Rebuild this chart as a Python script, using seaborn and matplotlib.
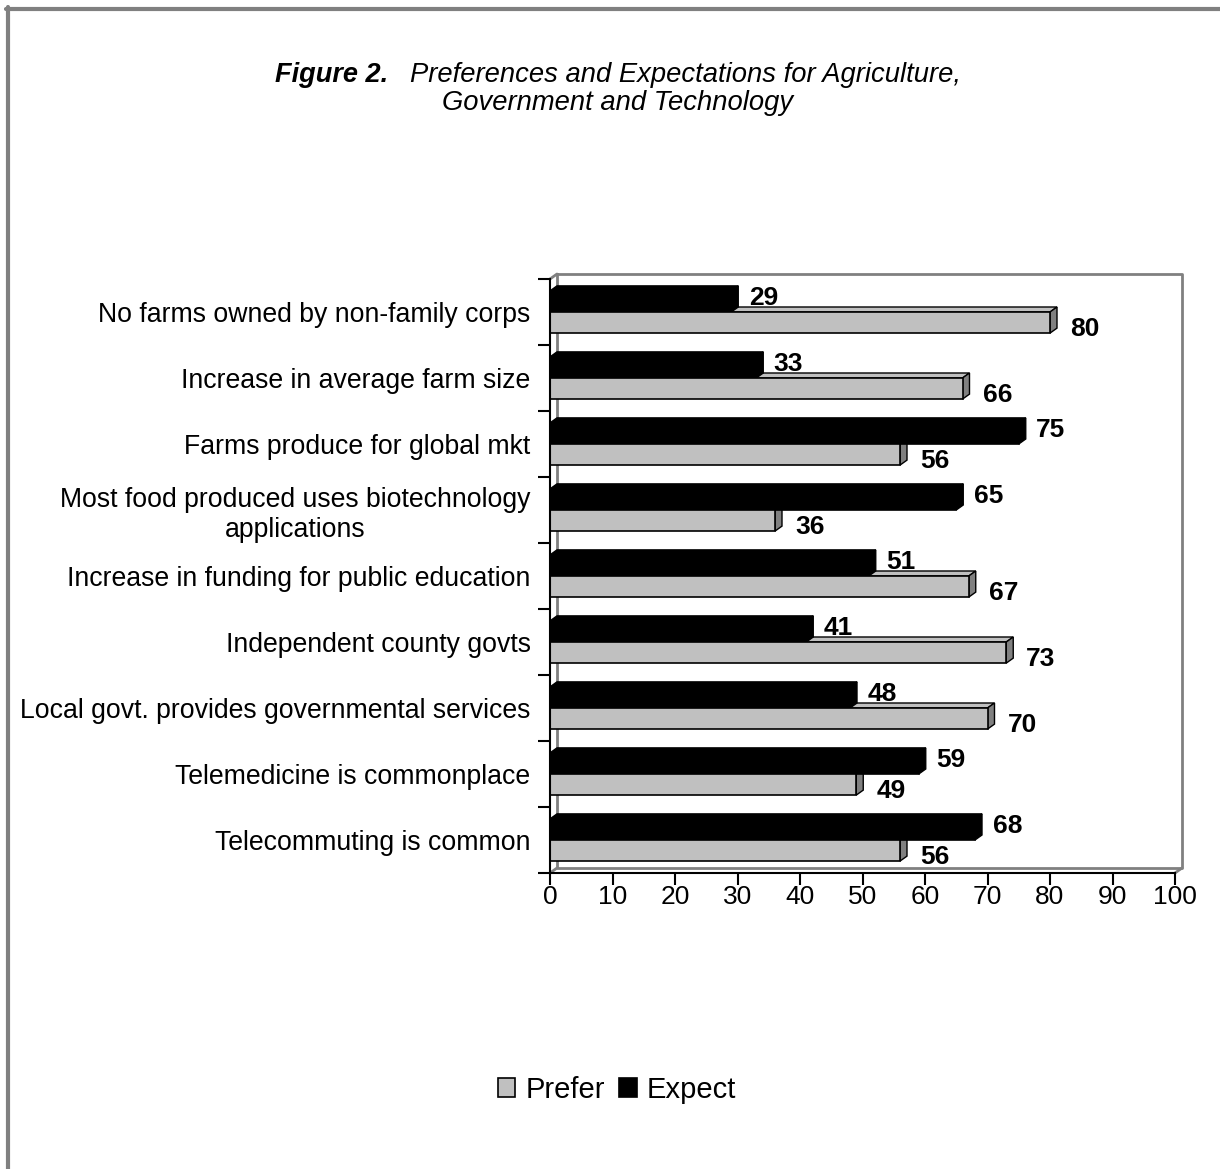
import numpy as np
import pandas as pd
import matplotlib
matplotlib.use("Agg")
import matplotlib.pyplot as plt
from matplotlib.patches import Polygon, Patch
from matplotlib.lines import Line2D
import seaborn as sns

# Survey items, top to bottom
items = [
    "No farms owned by non-family corps",
    "Increase in average farm size",
    "Farms produce for global mkt",
    "Most food produced uses biotechnology\napplications",
    "Increase in funding for public education",
    "Independent county govts",
    "Local govt. provides governmental services",
    "Telemedicine is commonplace",
    "Telecommuting is common",
]
prefer = [80, 66, 56, 36, 67, 73, 70, 49, 56]
expect = [29, 33, 75, 65, 51, 41, 48, 59, 68]
x_ticks = [0, 10, 20, 30, 40, 50, 60, 70, 80, 90, 100]

df = pd.DataFrame({
    "Item": items * 2,
    "Percent": expect + prefer,
    "Series": ["Expect"] * len(items) + ["Prefer"] * len(items),
})

sns.set_style("white")
plt.rcParams["font.family"] = ["Liberation Sans", "DejaVu Sans"]
plt.rcParams.update({"text.color": "black", "axes.labelcolor": "black",
                     "xtick.color": "black", "ytick.color": "black"})

W, H = 1220, 1169
fig = plt.figure(figsize=(W / 100, H / 100), dpi=100)
ax = fig.add_axes([550 / W, 1 - 873 / H, (1175 - 550) / W, (873 - 279) / H])

colors = {"Expect": "#000000", "Prefer": "#C0C0C0"}
sns.barplot(data=df, y="Item", x="Percent", hue="Series",
            hue_order=["Expect", "Prefer"], palette=colors, orient="h",
            width=0.64, saturation=1, errorbar=None, edgecolor="black",
            linewidth=1.2, legend=False, ax=ax)

ax.set_xlim(0, 100)
ax.set_ylim(8.5, -0.5)

# depth of the 3-D effect in data units (about 7 px across, 5 px up)
dx = 7 / 6.25
dy = 5 / 66.0

# side and top faces of each bar
for p in list(ax.patches):
    v = p.get_width()
    yt = p.get_y()
    yb = yt + p.get_height()
    is_black = p.get_facecolor()[0] < 0.5
    top_c = "#000000" if is_black else "#C0C0C0"
    side_c = "#000000" if is_black else "#808080"
    z = 0.95 if is_black else 0.9
    top = Polygon([(0, yt), (v, yt), (v + dx, yt - dy), (dx, yt - dy)],
                  closed=True, facecolor=top_c, edgecolor="black",
                  linewidth=1.0, zorder=z)
    side = Polygon([(v, yt), (v, yb), (v + dx, yb - dy), (v + dx, yt - dy)],
                   closed=True, facecolor=side_c, edgecolor="black",
                   linewidth=1.0, zorder=z)
    ax.add_patch(top)
    ax.add_patch(side)
    p.set_zorder(1.2)

# back wall and floor outline
wall = dict(color="#808080", lw=2.0, zorder=0.5, clip_on=False)
ax.plot([dx, 100 + dx, 100 + dx, dx, dx],
        [-0.5 - dy, -0.5 - dy, 8.5 - dy, 8.5 - dy, -0.5 - dy], **wall)
ax.plot([0, dx], [8.5, 8.5 - dy], **wall)
ax.plot([100, 100 + dx], [8.5, 8.5 - dy], **wall)
ax.plot([0, dx], [-0.5, -0.5 - dy], **wall)

# value labels
for i, (e, pval) in enumerate(zip(expect, prefer)):
    ax.text(e + 2.8, i - 0.16 - 0.05, str(e), fontsize=19, fontweight="bold",
            va="center", ha="left", clip_on=False)
    ax.text(pval + 3.2, i + 0.16 + 0.1, str(pval), fontsize=19,
            fontweight="bold", va="center", ha="left", clip_on=False)

for s in ["top", "right"]:
    ax.spines[s].set_visible(False)
for s in ["left", "bottom"]:
    ax.spines[s].set_color("black")
    ax.spines[s].set_linewidth(1.5)
    ax.spines[s].set_zorder(2)

ax.set_xticks(x_ticks)
ax.set_xticklabels([str(t) for t in x_ticks], fontsize=19)
ax.tick_params(axis="x", direction="out", length=8.5, width=1.5,
               colors="black", pad=0, bottom=True)
ax.set_yticks(range(len(items)))
ax.set_yticklabels(items, fontsize=19.2, multialignment="center")
ax.set_yticks(np.arange(-0.5, len(items), 1), minor=True)
ax.tick_params(axis="y", which="major", length=0, pad=14, left=True)
ax.tick_params(axis="y", which="minor", direction="out", length=8.5,
               width=1.5, colors="black", left=True)
ax.set_xlabel("")
ax.set_ylabel("")
ax.set_facecolor("white")

# title
fig.text(388 / W, 1 - 75 / H, "Figure 2.", fontsize=19.5, fontstyle="italic",
         fontweight="bold", ha="right", va="center")
fig.text(410 / W, 1 - 75 / H, "Preferences and Expectations for Agriculture,",
         fontsize=19.7, fontstyle="italic", ha="left", va="center")
fig.text(618 / W, 1 - 103 / H, "Government and Technology", fontsize=19.7,
         fontstyle="italic", ha="center", va="center")

# legend
handles = [Patch(facecolor="#C0C0C0", edgecolor="black", linewidth=1.2),
           Patch(facecolor="#000000", edgecolor="black", linewidth=1.2)]
fig.legend(handles, ["Prefer", "Expect"], loc="center",
           bbox_to_anchor=(617 / W, 1 - 1090 / H), ncol=2, frameon=False,
           fontsize=21, handlelength=0.6, handleheight=0.6,
           handletextpad=0.35, columnspacing=0.5)

# page border
fig.add_artist(Line2D([6 / W, 1], [1 - 9 / H, 1 - 9 / H], color="#808080",
                      lw=3, transform=fig.transFigure))
fig.add_artist(Line2D([8 / W, 8 / W], [1 - 7 / H, 0], color="#808080",
                      lw=3, transform=fig.transFigure))

fig.savefig("out.png", dpi=100, facecolor="white")
